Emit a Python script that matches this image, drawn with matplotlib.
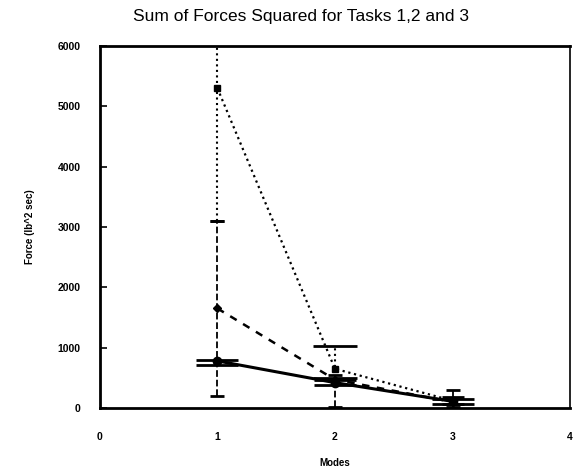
import numpy as np
import matplotlib
matplotlib.use('Agg')
import matplotlib.pyplot as plt

plt.rcParams['font.family'] = ['Liberation Sans', 'DejaVu Sans']

modes = [1, 2, 3]

# Task series; errors as (lower, upper)
task_dotted = [5300, 650, 120]
task_dotted_lo = [2200, 150, 60]
task_dotted_hi = [2200, 380, 60]
task_dashed = [1650, 470, 100]
task_dashed_lo = [1450, 460, 90]
task_dashed_hi = [1450, 80, 190]
task_solid = [780, 420, 110]
task_solid_lo = [60, 40, 50]
task_solid_hi = [20, 40, 40]

x_ticks = [0, 1, 2, 3, 4]
y_ticks = [0, 1000, 2000, 3000, 4000, 5000, 6000]

fig = plt.figure(figsize=(5.77, 4.72), dpi=100)
ax = fig.add_axes([0.173, 0.1356, 0.815, 0.767])

# dotted task: narrow caps at mode 1, wide caps elsewhere
ax.plot(modes, task_dotted, color='black', ls=':', lw=1.6, marker='s', ms=5)
for i, cs in zip(range(3), [5, 16, 8]):
    eb = ax.errorbar(modes[i], task_dotted[i],
                     yerr=[[task_dotted_lo[i]], [task_dotted_hi[i]]], fmt='none',
                     ecolor='black', capsize=cs, elinewidth=1.5, capthick=2)
    eb[2][0].set_linestyle(':')

eb = ax.errorbar(modes, task_dashed, yerr=[task_dashed_lo, task_dashed_hi], color='black',
                 ls='--', lw=1.8, marker='D', ms=4, capsize=5, elinewidth=1.3, capthick=2,
                 dashes=(3, 3))
eb[2][0].set_linestyle('--')

eb = ax.errorbar(modes, task_solid, yerr=[task_solid_lo, task_solid_hi], color='black',
                 ls='-', lw=2.2, marker='o', ms=6, capsize=15, elinewidth=1.5, capthick=2)

ax.set_xlim(0, 4)
ax.set_ylim(0, 6000)
ax.set_xticks(x_ticks)
ax.set_yticks(y_ticks)
ax.tick_params(axis='y', direction='in', length=5, width=1.2, pad=14, labelsize=7.5)
ax.tick_params(axis='x', length=0, pad=17, labelsize=7.5)
for lab in ax.get_xticklabels() + ax.get_yticklabels():
    lab.set_fontweight('bold')

for s in ['left', 'bottom', 'top']:
    ax.spines[s].set_linewidth(2)
ax.spines['right'].set_linewidth(1.2)

fig.text(0.522, 0.965, 'Sum of Forces Squared for Tasks 1,2 and 3', fontsize=12.5,
         ha='center', va='center')
ax.set_xlabel('Modes', fontsize=7, fontweight='bold', labelpad=12)
ax.set_ylabel('Force (lb^2 sec)', fontsize=7, fontweight='bold', labelpad=16)

fig.savefig('out.png', dpi=100)
